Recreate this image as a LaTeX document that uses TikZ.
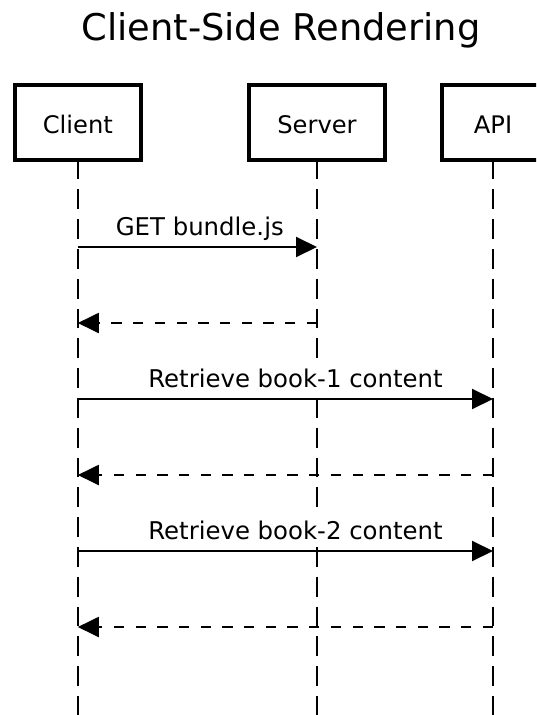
\documentclass[tikz,border=0pt]{standalone}
\usepackage{fontspec}
\setmainfont{DejaVu Sans}
\usetikzlibrary{arrows.meta}
\tikzset{
  actor/.style={draw, line width=4pt, inner sep=0pt, outer sep=0pt,
    minimum height=74.5pt, font=\fontsize{24.2}{28}\selectfont,
    text height=21.5pt, text depth=0pt},
  lifeline/.style={line width=2pt, dash pattern=on 19.8pt off 10pt},
  msg/.style={line width=2pt, -{Triangle[length=21pt,width=20pt]}},
  reply/.style={msg, dash pattern=on 10.3pt off 11.4pt},
  msglabel/.style={font=\fontsize{24.4}{28}\selectfont, anchor=base west,
    fill=white, inner xsep=1pt, inner ysep=4pt, at start, yshift=11.5pt},
}
\begin{document}
\begin{tikzpicture}[x=1pt,y=-1pt]
\useasboundingbox (0,0) rectangle (536,715);
\clip (0,0) rectangle (536,715);
\node[font=\fontsize{36.8}{44}\selectfont, anchor=base, inner sep=0pt] (title) at (281,40) {Client-Side Rendering};
\node[actor, minimum width=125.6pt] (client) at (77.8,122.25) {Client};
\node[actor, minimum width=136pt] (server) at (317,122.25) {Server};
\node[actor, minimum width=102pt] (api) at (493,122.25) {API};
\coordinate (cend) at (77.8,720);
\coordinate (send) at (317,720);
\coordinate (aend) at (493,720);
\draw[lifeline] (client.south) -- (cend);
\draw[lifeline] (server.south) -- (send);
\draw[lifeline] (api.south) -- (aend);
\coordinate (c1) at (77.8,247); \coordinate (s1) at (317,247);
\coordinate (c2) at (77.8,323); \coordinate (s2) at (317,323);
\coordinate (c3) at (77.8,399); \coordinate (a3) at (493,399);
\coordinate (c4) at (77.8,475); \coordinate (a4) at (493,475);
\coordinate (c5) at (77.8,551); \coordinate (a5) at (493,551);
\coordinate (c6) at (77.8,627); \coordinate (a6) at (493,627);
\draw[msg] (c1) -- node[msglabel, xshift=36pt] (l1) {GET bundle.js} (s1);
\draw[reply] (s2) -- (c2);
\draw[msg] (c3) -- node[msglabel, xshift=68.5pt] (l3) {Retrieve book-1 content} (a3);
\draw[reply] (a4) -- (c4);
\draw[msg] (c5) -- node[msglabel, xshift=68.5pt] (l5) {Retrieve book-2 content} (a5);
\draw[reply] (a6) -- (c6);
\end{tikzpicture}
\end{document}
